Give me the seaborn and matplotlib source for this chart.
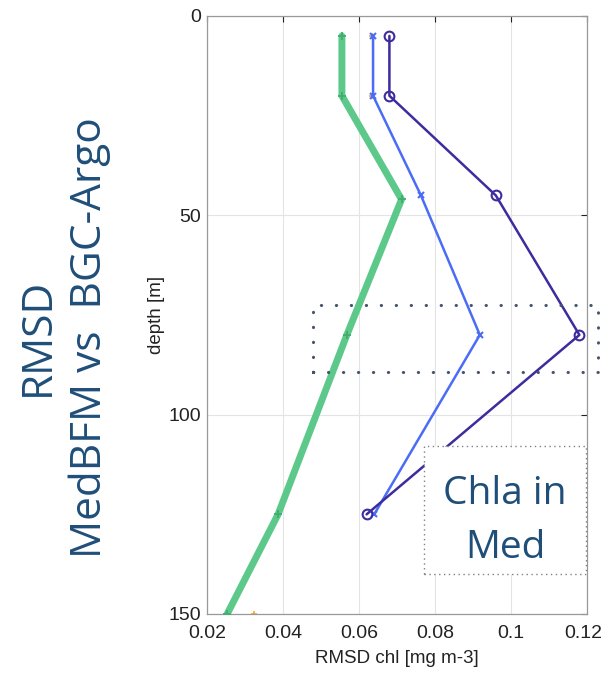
import numpy as np
import pandas as pd
import matplotlib
matplotlib.use("Agg")
import matplotlib.pyplot as plt
import matplotlib.patches as mpatches
import matplotlib.transforms as mtransforms
import seaborn as sns

# depth levels [m] and RMSD values
depth_pts = [5, 20, 45, 80, 125]
rmsd_purple = [0.068, 0.068, 0.096, 0.118, 0.062]
rmsd_blue = [0.0637, 0.0637, 0.0763, 0.0918, 0.064]

depth_green = [5, 20, 46, 80, 125, 150]
rmsd_green = [0.0555, 0.0555, 0.0712, 0.0568, 0.0387, 0.0253]

depth_orange = [5, 20, 150]
rmsd_orange = [0.0633, 0.0633, 0.0324]

xticks = [0.02, 0.04, 0.06, 0.08, 0.1, 0.12]
xtick_labels = ["0.02", "0.04", "0.06", "0.08", "0.1", "0.12"]
yticks = [0, 50, 100, 150]

sns.set_style("white")
plt.rcParams["font.family"] = ["Liberation Sans", "DejaVu Sans"]

fig = plt.figure(figsize=(6.03, 6.79), dpi=100)
ax = fig.add_axes([207 / 603, 65 / 679, 380 / 603, 598 / 679])

sns.lineplot(x=rmsd_orange, y=depth_orange, sort=False, estimator=None, ax=ax,
             color="#F0A830", linewidth=0, marker="+", markersize=4,
             markeredgewidth=1.2, markeredgecolor="#F0A830", zorder=2)
sns.lineplot(x=rmsd_green, y=depth_green, sort=False, estimator=None, ax=ax,
             color="#5CC98A", linewidth=5, marker="+", markersize=6,
             markeredgewidth=1.3, markeredgecolor="#3FAE6E", zorder=3)
sns.lineplot(x=rmsd_blue, y=depth_pts, sort=False, estimator=None, ax=ax,
             color="#4A6CF7", linewidth=1.8, marker="x", markersize=5,
             markeredgewidth=1.5, markeredgecolor="#4A6CF7", zorder=4)
sns.lineplot(x=rmsd_purple, y=depth_pts, sort=False, estimator=None, ax=ax,
             color="#3D2C9E", linewidth=1.8, marker="o", markersize=7,
             markerfacecolor="none", markeredgewidth=1.5,
             markeredgecolor="#3D2C9E", zorder=5)

ax.set_xlim(0.02, 0.12)
ax.set_ylim(150, 0)
ax.set_xticks(xticks)
ax.set_xticklabels(xtick_labels)
ax.set_yticks(yticks)
ax.grid(True, color="#e4e4e4", linewidth=0.8)
ax.tick_params(direction="in", length=4, width=0.8, top=True, right=True,
               labelsize=14, colors="#222222")
ax.tick_params(axis="x", pad=8)
ax.tick_params(axis="y", pad=4)
# keep the last x label inside the picture
last = ax.get_xticklabels()[-1]
last.set_transform(last.get_transform() +
                   mtransforms.ScaledTranslation(-3 / 72, 0, fig.dpi_scale_trans))
for s in ax.spines.values():
    s.set_color("#999999")
    s.set_linewidth(0.9)
ax.set_xlabel("RMSD chl [mg m-3]", fontsize=13.5, color="#222222", labelpad=6)
ax.set_ylabel("depth [m]", fontsize=13.5, color="#222222", labelpad=3)

txt_color = "#1F4E79"
fig.text(38 / 603, 1 - 337 / 679, "RMSD", rotation=90, ha="center", va="center",
         fontsize=30.5, color=txt_color, family=["Open Sans", "DejaVu Sans"])
fig.text(90 / 603, 1 - 338 / 679, "MedBFM vs  BGC-Argo", rotation=90, ha="center",
         va="center", fontsize=30.5, color=txt_color, family=["Open Sans", "DejaVu Sans"])

# dotted highlight rectangle around the DCM layer
rect = mpatches.Rectangle((313 / 603, 1 - 372 / 679), 285 / 603, 67 / 679,
                          transform=fig.transFigure, fill=False, edgecolor="#44546A",
                          linewidth=2.2, linestyle=(0, (0.1, 4.8)), capstyle="round",
                          clip_on=False, zorder=10)
fig.add_artist(rect)

# text box
box = mpatches.Rectangle((424 / 603, 1 - 574 / 679), 162 / 603, 128 / 679,
                         transform=fig.transFigure, facecolor="white", edgecolor="#808080",
                         linewidth=1.0, linestyle=(0, (1, 2.5)), zorder=11)
fig.add_artist(box)
fig.text(505 / 603, 1 - 494 / 679, "Chla in", ha="center", va="center", fontsize=28,
         color=txt_color, family=["Open Sans", "DejaVu Sans"], zorder=12)
fig.text(505 / 603, 1 - 548 / 679, "Med", ha="center", va="center", fontsize=28,
         color=txt_color, family=["Open Sans", "DejaVu Sans"], zorder=12)

fig.savefig("out.png", dpi=100)
